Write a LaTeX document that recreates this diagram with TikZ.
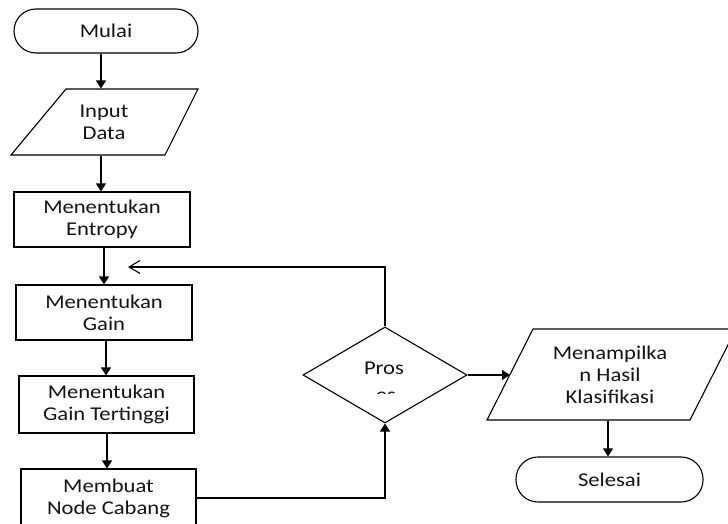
\documentclass[tikz,border=0pt]{standalone}
\usepackage{fontspec}
\setmainfont{Carlito}[FakeStretch=1.16]
\usetikzlibrary{arrows.meta,shapes.geometric}
\begin{document}
\begin{tikzpicture}[x=1pt,y=-1pt,line width=1.1pt,
  arr/.style={-{Triangle[length=8pt,width=10pt]}},
  term/.style={draw,rounded corners=22pt,inner sep=0pt,align=center},
  procbox/.style={draw,inner sep=0pt,align=center},
  lbl/.style={inner sep=0pt,align=center},
  every node/.style={font=\fontsize{19.5}{22}\selectfont,text=black!92}]
\useasboundingbox (0,0) rectangle (728,524);
\clip (0,0) rectangle (728,524);
% x positions of vertical connectors
\coordinate (ax1) at (101,0);
\coordinate (ax2) at (104,0);
\coordinate (ax3) at (106,0);
\coordinate (ax4) at (107,0);
\coordinate (ax5) at (608,0);
% start
\node[term,minimum width=184pt,minimum height=44pt] (mulai) at (106,31) {Mulai};
% input
\draw (66,89) -- (198,89) -- (165,155) -- (11,155) -- cycle;
\node[lbl,minimum width=100pt,minimum height=66pt] (inp) at (104,122) {Input\\Data};
% processes
\node[procbox,minimum width=176pt,minimum height=55pt] (ent) at (102,219.5) {Menentukan\\Entropy};
\node[procbox,minimum width=176pt,minimum height=55pt] (gain) at (104,312.5) {Menentukan\\Gain};
\node[procbox,minimum width=175pt,minimum height=57pt] (tt) at (106.5,404.5) {Menentukan\\Gain Tertinggi};
\node[procbox,minimum width=175pt,minimum height=58pt] (mem) at (108.5,498) {Membuat\\Node Cabang};
% decision
\node[diamond,draw,minimum width=164pt,minimum height=96pt,inner sep=0pt] (dec) at (385,375) {};
\node[lbl] (pros) at (384,368) {Pros};
\begin{scope}
\clip (340,380) rectangle (430,393.5);
\node[lbl,anchor=base] (es) at (386,401) {es};
\end{scope}
% output
\draw (533,329) -- (736,329) -- (690,420) -- (487,420) -- cycle;
\node[lbl,minimum width=100pt,minimum height=91pt] (out) at (610,374.5) {Menampilka\\n Hasil\\Klasifikasi};
\coordinate (outL) at (510,375);
% end
\node[term,minimum width=187pt,minimum height=45pt] (sel) at (609.5,479.5) {Selesai};
% connectors
\draw[arr] (mulai.south -| ax1) -- (inp.north -| ax1);
\draw[arr] (inp.south -| ax1) -- (ent.north -| ax1);
\draw[arr] (ent.south -| ax2) -- (gain.north -| ax2);
\draw[arr] (gain.south -| ax3) -- (tt.north -| ax3);
\draw[arr] (tt.south -| ax4) -- (mem.north -| ax4);
\draw[arr] (mem.east) -| (dec.south);
\coordinate (lp) at (128,267);
\draw[-{Straight Barb[length=11pt,width=13pt]}] (dec.north) |- (lp);
\draw[arr] (dec.east) -- (outL);
\draw[arr] (out.south -| ax5) -- (sel.north -| ax5);
\end{tikzpicture}
\end{document}
